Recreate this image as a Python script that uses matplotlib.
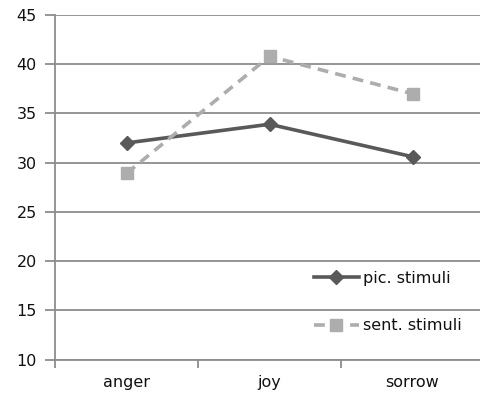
import matplotlib.pyplot as plt
import numpy as np

categories = ["anger", "joy", "sorrow"]
pic_stimuli = [32.0, 33.9, 30.6]
sent_stimuli = [28.9, 40.8, 37.0]
y_ticks = [10, 15, 20, 25, 30, 35, 40, 45]

plt.rcParams['font.family'] = ['DejaVu Sans']

fig = plt.figure(figsize=(4.80, 3.97), dpi=100)
ax = fig.add_axes([55 / 480, 1 - 359.5 / 397, 429 / 480, 344.5 / 397])

x = np.arange(len(categories))
ax.plot(x, pic_stimuli, color="#595959", lw=2.6, marker="D", ms=7,
        label="pic. stimuli", zorder=3)
ax.plot(x, sent_stimuli, color="#adadad", lw=2.6, ls=(0, (3, 2)), marker="s",
        ms=9, label="sent. stimuli", zorder=3)

ax.set_xlim(-0.5, len(categories) - 0.5)
ax.set_ylim(10, 45)
ax.set_yticks(y_ticks)
ax.set_xticks(x)
ax.set_xticklabels(categories)
ax.set_xticks(np.arange(-0.5, len(categories)), minor=True)

ax.grid(axis="y", color="#8c8c8c", lw=1.3)
ax.set_axisbelow(True)
for side in ["top", "right"]:
    ax.spines[side].set_visible(False)
for side in ["left", "bottom"]:
    ax.spines[side].set_color("#8c8c8c")
    ax.spines[side].set_linewidth(1.3)

ax.tick_params(axis="y", length=7, width=1.3, color="#8c8c8c", labelsize=11.5,
               labelcolor="#111111", pad=6)
ax.tick_params(axis="x", which="major", length=0, labelsize=11.5,
               labelcolor="#111111", pad=11)
ax.tick_params(axis="x", which="minor", length=6, width=1.3, color="#8c8c8c")

ax.legend(loc="upper left", bbox_to_anchor=(0.57, 0.30), frameon=False,
          fontsize=11.5, labelspacing=2.05, handlelength=2.8, handletextpad=0.3,
          labelcolor="#111111")

fig.savefig("out.png", dpi=100)
